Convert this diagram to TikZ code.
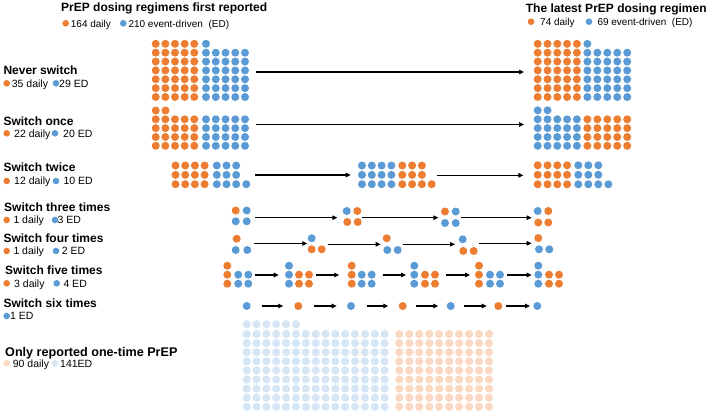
\documentclass[tikz,border=0pt]{standalone}
\usepackage{fontspec}
\setmainfont{Liberation Sans}
\usetikzlibrary{arrows.meta}
\definecolor{cO}{HTML}{ED7D31}
\definecolor{cB}{HTML}{5B9BD5}
\colorlet{cOl}{cO!30}
\colorlet{cBl}{cB!25}
% block of dots: colour, x0, y0, ncols, nrows, dx, dy, radius
\newcommand\dts[8]{%
  \foreach \ii in {1,...,#4}{\foreach \jj in {1,...,#5}{%
    \fill[#1] ({#2+(\ii-1)*#6},{#3+(\jj-1)*#7}) circle[radius=#8pt];}}}
\newcommand\dt[3]{\fill[#1] (#2,#3) circle[radius=4pt];}
\newcommand\ldt[3]{\fill[#1] (#2,#3) circle[radius=3.3pt];}
\begin{document}
\begin{tikzpicture}[x=1pt,y=-1pt,
  ttl/.style={anchor=base west,inner sep=0pt,font=\fontsize{12}{14}\selectfont\bfseries},
  lgd/.style={anchor=base west,inner sep=0pt,font=\fontsize{10.5}{12}\selectfont},
  tlgd/.style={anchor=base west,inner sep=0pt,font=\fontsize{10}{12}\selectfont},
  arr/.style={line width=1.1pt,-{Triangle[length=5pt,width=4.5pt]}}]
\useasboundingbox (0,0) rectangle (709,413);

% ---------- headings ----------
\node[ttl] (hL) at (61,11.5) {PrEP dosing regimens first reported};
\ldt{cO}{65.7}{23.3}
\node[tlgd] (hL1) at (70.7,27) {164 daily};
\ldt{cB}{123.3}{23.3}
\node[tlgd] (hL2) at (128.3,27) {210 event-driven\ \ (ED)};

\node[ttl] (hR) at (525.7,12) {The latest PrEP dosing regimen};
\ldt{cO}{531}{21.7}
\node[tlgd] (hR1) at (540,25.4) {74 daily};
\ldt{cB}{589}{21.7}
\node[tlgd] (hR2) at (597.3,25.4) {69 event-driven\ \ (ED)};

% ---------- left labels ----------
\node[ttl] (t1) at (3.3,74) {Never switch};
\ldt{cO}{6.7}{83.3}\node[lgd] (l1a) at (11.7,87) {35 daily};
\ldt{cB}{56}{83.3}\node[lgd] (l1b) at (59,87) {29 ED};

\node[ttl] (t2) at (3.3,125) {Switch once};
\ldt{cO}{6.7}{133.3}\node[lgd] (l2a) at (14,137) {22 daily};
\ldt{cB}{55}{133.3}\node[lgd] (l2b) at (63,137) {20 ED};

\node[ttl] (t3) at (3.3,171.7) {Switch twice};
\ldt{cO}{6.7}{181}\node[lgd] (l3a) at (14,184.7) {12 daily};
\ldt{cB}{56}{181}\node[lgd] (l3b) at (63.3,184.7) {10 ED};

\node[ttl] (t4) at (4,211) {Switch three times};
\ldt{cO}{6.7}{220}\node[lgd] (l4a) at (13.3,223.7) {1 daily};
\ldt{cB}{55}{220}\node[lgd] (l4b) at (57.5,223.7) {3 ED};

\node[ttl] (t5) at (3.3,242.7) {Switch four times};
\ldt{cO}{6.7}{251}\node[lgd] (l5a) at (13.3,254.7) {1 daily};
\ldt{cB}{56}{251}\node[lgd] (l5b) at (61.7,254.7) {2 ED};

\node[ttl] (t6) at (5,274) {Switch five times};
\ldt{cO}{6.7}{283.3}\node[lgd] (l6a) at (14,287) {3 daily};
\ldt{cB}{56.7}{283.3}\node[lgd] (l6b) at (63.3,287) {4 ED};

\node[ttl] (t7) at (3.3,307.3) {Switch six times};
\ldt{cB}{6.7}{316}\node[lgd] (l7a) at (10,319.7) {1 ED};

\node[ttl,font=\fontsize{12.6}{14}\selectfont\bfseries] (t8) at (5,356) {Only reported one-time PrEP};
\ldt{cOl}{6.7}{363.3}\node[lgd] (l8a) at (12.7,367) {90 daily};
\ldt{cBl}{55}{363.3}\node[lgd] (l8b) at (60,367) {141ED};

% ---------- never switch ----------
\dts{cO}{155.7}{43.8}{5}{7}{9.65}{8.86}{4}
\dt{cB}{206}{43.8}
\dts{cB}{206}{52.7}{5}{6}{9.75}{8.86}{4}
\dts{cO}{537.7}{43.8}{5}{7}{9.8}{8.86}{4}
\dt{cB}{587.4}{43.8}
\dts{cB}{587.4}{52.7}{5}{6}{9.95}{8.86}{4}
\coordinate (a1s) at (256,72); \coordinate (a1e) at (524,72);
\draw[arr] (a1s) -- (a1e);

% ---------- switch once ----------
\dts{cO}{155.7}{110.5}{2}{1}{9.8}{8.8}{4}
\dts{cO}{155.7}{119.3}{5}{4}{9.65}{8.83}{4}
\dts{cB}{206}{119.3}{5}{4}{9.75}{8.83}{4}
\dts{cB}{537.7}{110.3}{2}{1}{9.8}{8.8}{4}
\dts{cB}{537.7}{119.3}{5}{4}{9.8}{8.83}{4}
\dts{cO}{587.4}{119.3}{5}{4}{9.95}{8.83}{4}
\coordinate (a2s) at (256,124.5); \coordinate (a2e) at (524,124.5);
\draw[arr] (a2s) -- (a2e);

% ---------- switch twice ----------
\dts{cO}{175.5}{165.5}{4}{3}{9.7}{9.35}{4}
\dts{cB}{216.8}{165.5}{3}{3}{9.7}{9.35}{4}
\dt{cB}{246.3}{184.2}
\dts{cB}{362}{165.5}{4}{3}{9.8}{9.35}{4}
\dts{cO}{402.3}{165.5}{3}{3}{9.8}{9.35}{4}
\dt{cO}{431.7}{184.2}
\dts{cO}{537.7}{165.3}{4}{3}{9.8}{9.5}{4}
\dts{cB}{578.3}{165.3}{3}{3}{10}{9.5}{4}
\dt{cB}{608.3}{184.3}
\coordinate (a3s) at (255,175); \coordinate (a3e) at (350.7,175);
\coordinate (a3f) at (437.3,175.3); \coordinate (a3g) at (523.3,175.3);
\draw[arr] (a3s) -- (a3e);
\draw[arr] (a3f) -- (a3g);

% ---------- switch three times ----------
\dt{cO}{235.7}{210.5}\dt{cB}{246.7}{210.5}\dt{cB}{235.7}{221.3}\dt{cB}{246.7}{221.3}
\dt{cB}{346.7}{211}\dt{cO}{357.3}{211}\dt{cO}{347.3}{222}\dt{cO}{357.7}{222}
\dt{cO}{445}{211.5}\dt{cB}{455.7}{211.5}\dt{cB}{445}{223}\dt{cB}{455.7}{223}
\dt{cB}{537.7}{211}\dt{cO}{548.3}{211}\dt{cO}{538.3}{222.5}\dt{cO}{548.3}{222.5}
\coordinate (b1) at (255,217.7); \coordinate (b2) at (337.3,217.7);
\coordinate (b3) at (361.7,217.7); \coordinate (b4) at (438.3,217.7);
\coordinate (b5) at (461,217.7); \coordinate (b6) at (531.7,217.7);
\draw[arr] (b1) -- (b2); \draw[arr] (b3) -- (b4); \draw[arr] (b5) -- (b6);

% ---------- switch four times ----------
\dt{cO}{236.7}{238.7}\dt{cB}{235.7}{250}\dt{cB}{247.3}{250}
\dt{cB}{311.7}{238.3}\dt{cO}{311.7}{249.3}\dt{cO}{321.7}{249.3}
\dt{cO}{386.7}{238.3}\dt{cB}{387.3}{250}\dt{cB}{397.7}{250}
\dt{cB}{462.7}{239.3}\dt{cO}{463.3}{251}\dt{cO}{473.7}{251}
\dt{cO}{538.3}{238}\dt{cB}{539}{249.3}\dt{cB}{549.3}{249.3}
\coordinate (c1) at (254.3,243.5); \coordinate (c2) at (307.3,243.5);
\coordinate (c3) at (327.7,244.3); \coordinate (c4) at (380.7,244.3);
\coordinate (c5) at (402.7,244.3); \coordinate (c6) at (455,244.3);
\coordinate (c7) at (479,243.3); \coordinate (c8) at (531.7,243.3);
\draw[arr] (c1) -- (c2); \draw[arr] (c3) -- (c4);
\draw[arr] (c5) -- (c6); \draw[arr] (c7) -- (c8);

% ---------- switch five times ----------
\dts{cO}{227.3}{265.7}{1}{3}{10}{9}{4}\dts{cB}{238.3}{274.7}{2}{2}{10}{9}{4}
\dts{cB}{289}{265.7}{1}{3}{10}{9}{4}\dts{cO}{299}{274.7}{2}{2}{10}{9}{4}
\dts{cO}{351.7}{265.7}{1}{3}{10}{9}{4}\dts{cB}{361.7}{274.7}{2}{2}{10}{9}{4}
\dts{cB}{414.3}{265.7}{1}{3}{10}{9}{4}\dts{cO}{425}{274.7}{2}{2}{10}{9}{4}
\dts{cO}{479}{265.7}{1}{3}{10}{9}{4}\dts{cB}{490}{274.7}{2}{2}{10}{9}{4}
\dts{cB}{538.3}{265.7}{1}{3}{10}{9}{4}\dts{cO}{549}{274.7}{2}{2}{10}{9}{4}
\coordinate (d1) at (255,275); \coordinate (d2) at (278.7,275);
\coordinate (d3) at (316,275); \coordinate (d4) at (339.3,275);
\coordinate (d5) at (382.7,275); \coordinate (d6) at (406,275);
\coordinate (d7) at (446,275); \coordinate (d8) at (470,275);
\coordinate (d9) at (507.3,275); \coordinate (d10) at (531.7,275);
\draw[arr] (d1) -- (d2); \draw[arr] (d3) -- (d4); \draw[arr] (d5) -- (d6);
\draw[arr] (d7) -- (d8); \draw[arr] (d9) -- (d10);

% ---------- switch six times ----------
\dt{cB}{246.7}{306}\dt{cO}{298.3}{306}\dt{cB}{351}{306}\dt{cO}{402.7}{306}
\dt{cB}{450.7}{306}\dt{cO}{498.3}{306}\dt{cB}{537.3}{306}
\coordinate (e1) at (261.7,306); \coordinate (e2) at (283.3,306);
\coordinate (e3) at (314,306); \coordinate (e4) at (336.7,306);
\coordinate (e5) at (366.7,306); \coordinate (e6) at (388.3,306);
\coordinate (e7) at (416,306); \coordinate (e8) at (438.3,306);
\coordinate (e9) at (464,306); \coordinate (e10) at (486.7,306);
\coordinate (e11) at (506,306); \coordinate (e12) at (530,306);
\draw[arr] (e1) -- (e2); \draw[arr] (e3) -- (e4); \draw[arr] (e5) -- (e6);
\draw[arr] (e7) -- (e8); \draw[arr] (e9) -- (e10); \draw[arr] (e11) -- (e12);

% ---------- only reported one-time ----------
\dts{cBl}{246.7}{324.3}{6}{1}{9.85}{9.1}{4.1}
\dts{cBl}{246.7}{334}{15}{9}{9.85}{9.1}{4.1}
\dts{cOl}{399.3}{334}{10}{9}{9.97}{9.1}{4.1}
\end{tikzpicture}
\end{document}
